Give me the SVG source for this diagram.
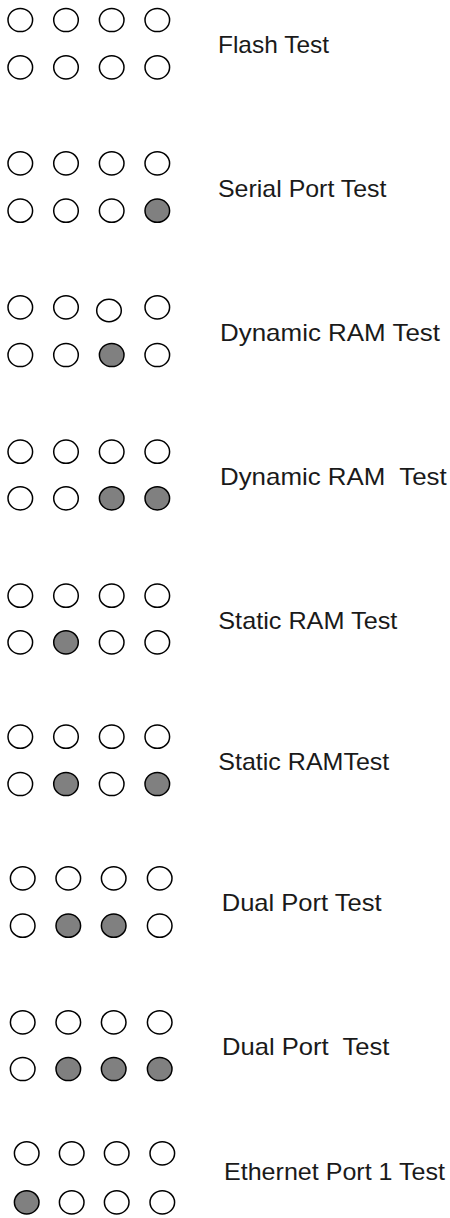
<svg xmlns="http://www.w3.org/2000/svg" width="450" height="1218" viewBox="0 0 450 1218">
<style>
.off{fill:#ffffff;stroke:#000000;stroke-width:1.5}
.on{fill:#808080;stroke:#000000;stroke-width:1.5}
.lbl{font-family:"Liberation Sans",Arial,sans-serif;font-size:24px;fill:#1a1a1a}
</style>
<rect width="450" height="1218" fill="#ffffff"/>
<g id="row1">
<ellipse class="off" cx="20.3" cy="20" rx="12.3" ry="11.6"/><ellipse class="off" cx="66" cy="20" rx="12.3" ry="11.6"/><ellipse class="off" cx="111.7" cy="20" rx="12.3" ry="11.6"/><ellipse class="off" cx="157.3" cy="20" rx="12.3" ry="11.6"/>
<ellipse class="off" cx="20.3" cy="67.3" rx="12.3" ry="11.6"/><ellipse class="off" cx="66" cy="67.3" rx="12.3" ry="11.6"/><ellipse class="off" cx="111.7" cy="67.3" rx="12.3" ry="11.6"/><ellipse class="off" cx="157.3" cy="67.3" rx="12.3" ry="11.6"/>
<text class="lbl" x="218" y="53" textLength="111" lengthAdjust="spacingAndGlyphs">Flash Test</text>
</g>
<g id="row2">
<ellipse class="off" cx="20.3" cy="163.3" rx="12.3" ry="11.6"/><ellipse class="off" cx="66" cy="163.3" rx="12.3" ry="11.6"/><ellipse class="off" cx="111.7" cy="163.3" rx="12.3" ry="11.6"/><ellipse class="off" cx="157.3" cy="163.3" rx="12.3" ry="11.6"/>
<ellipse class="off" cx="20.3" cy="210.7" rx="12.3" ry="11.6"/><ellipse class="off" cx="66" cy="210.7" rx="12.3" ry="11.6"/><ellipse class="off" cx="111.7" cy="210.7" rx="12.3" ry="11.6"/><ellipse class="on" cx="157.3" cy="210.7" rx="12.3" ry="11.6"/>
<text class="lbl" x="218" y="196.7" textLength="168.5" lengthAdjust="spacingAndGlyphs">Serial Port Test</text>
</g>
<g id="row3">
<ellipse class="off" cx="20.3" cy="307.3" rx="12.3" ry="11.6"/><ellipse class="off" cx="66" cy="307.3" rx="12.3" ry="11.6"/><ellipse class="off" cx="109" cy="310.5" rx="12.3" ry="11.2"/><ellipse class="off" cx="157.3" cy="307.3" rx="12.3" ry="11.6"/>
<ellipse class="off" cx="20.3" cy="355" rx="12.3" ry="11.6"/><ellipse class="off" cx="66" cy="355" rx="12.3" ry="11.6"/><ellipse class="on" cx="111.7" cy="355" rx="12.3" ry="11.6"/><ellipse class="off" cx="157.3" cy="355" rx="12.3" ry="11.6"/>
<text class="lbl" x="220" y="340.7" textLength="220" lengthAdjust="spacingAndGlyphs">Dynamic RAM Test</text>
</g>
<g id="row4">
<ellipse class="off" cx="20.3" cy="451.7" rx="12.3" ry="11.6"/><ellipse class="off" cx="66" cy="451.7" rx="12.3" ry="11.6"/><ellipse class="off" cx="111.7" cy="451.7" rx="12.3" ry="11.6"/><ellipse class="off" cx="157.3" cy="451.7" rx="12.3" ry="11.6"/>
<ellipse class="off" cx="20.3" cy="498.3" rx="12.3" ry="11.6"/><ellipse class="off" cx="66" cy="498.3" rx="12.3" ry="11.6"/><ellipse class="on" cx="111.7" cy="498.3" rx="12.3" ry="11.6"/><ellipse class="on" cx="157.3" cy="498.3" rx="12.3" ry="11.6"/>
<text class="lbl" x="220" y="485" textLength="226.7" lengthAdjust="spacingAndGlyphs" xml:space="preserve">Dynamic RAM  Test</text>
</g>
<g id="row5">
<ellipse class="off" cx="20.3" cy="595.7" rx="12.3" ry="11.6"/><ellipse class="off" cx="66" cy="595.7" rx="12.3" ry="11.6"/><ellipse class="off" cx="111.7" cy="595.7" rx="12.3" ry="11.6"/><ellipse class="off" cx="157.3" cy="595.7" rx="12.3" ry="11.6"/>
<ellipse class="off" cx="20.3" cy="642.3" rx="12.3" ry="11.6"/><ellipse class="on" cx="66" cy="642.3" rx="12.3" ry="11.6"/><ellipse class="off" cx="111.7" cy="642.3" rx="12.3" ry="11.6"/><ellipse class="off" cx="157.3" cy="642.3" rx="12.3" ry="11.6"/>
<text class="lbl" x="218.3" y="629" textLength="179" lengthAdjust="spacingAndGlyphs">Static RAM Test</text>
</g>
<g id="row6">
<ellipse class="off" cx="20.3" cy="736.7" rx="12.3" ry="11.6"/><ellipse class="off" cx="66" cy="736.7" rx="12.3" ry="11.6"/><ellipse class="off" cx="111.7" cy="736.7" rx="12.3" ry="11.6"/><ellipse class="off" cx="157.3" cy="736.7" rx="12.3" ry="11.6"/>
<ellipse class="off" cx="20.3" cy="784" rx="12.3" ry="11.6"/><ellipse class="on" cx="66" cy="784" rx="12.3" ry="11.6"/><ellipse class="off" cx="111.7" cy="784" rx="12.3" ry="11.6"/><ellipse class="on" cx="157.3" cy="784" rx="12.3" ry="11.6"/>
<text class="lbl" x="218.3" y="770" textLength="171" lengthAdjust="spacingAndGlyphs">Static RAMTest</text>
</g>
<g id="row7">
<ellipse class="off" cx="22.7" cy="878.3" rx="12.3" ry="11.6"/><ellipse class="off" cx="68.3" cy="878.3" rx="12.3" ry="11.6"/><ellipse class="off" cx="113.7" cy="878.3" rx="12.3" ry="11.6"/><ellipse class="off" cx="159.7" cy="878.3" rx="12.3" ry="11.6"/>
<ellipse class="off" cx="22.7" cy="925.7" rx="12.3" ry="11.6"/><ellipse class="on" cx="68.3" cy="925.7" rx="12.3" ry="11.6"/><ellipse class="on" cx="113.7" cy="925.7" rx="12.3" ry="11.6"/><ellipse class="off" cx="159.7" cy="925.7" rx="12.3" ry="11.6"/>
<text class="lbl" x="221.7" y="911" textLength="160" lengthAdjust="spacingAndGlyphs">Dual Port Test</text>
</g>
<g id="row8">
<ellipse class="off" cx="22.7" cy="1022.3" rx="12.3" ry="11.6"/><ellipse class="off" cx="68.3" cy="1022.3" rx="12.3" ry="11.6"/><ellipse class="off" cx="113.7" cy="1022.3" rx="12.3" ry="11.6"/><ellipse class="off" cx="159.7" cy="1022.3" rx="12.3" ry="11.6"/>
<ellipse class="off" cx="22.7" cy="1069" rx="12.3" ry="11.6"/><ellipse class="on" cx="68.3" cy="1069" rx="12.3" ry="11.6"/><ellipse class="on" cx="113.7" cy="1069" rx="12.3" ry="11.6"/><ellipse class="on" cx="159.7" cy="1069" rx="12.3" ry="11.6"/>
<text class="lbl" x="222" y="1055" textLength="167.3" lengthAdjust="spacingAndGlyphs" xml:space="preserve">Dual Port  Test</text>
</g>
<g id="row9">
<ellipse class="off" cx="26.7" cy="1153.3" rx="12.3" ry="11.6"/><ellipse class="off" cx="71.7" cy="1153.3" rx="12.3" ry="11.6"/><ellipse class="off" cx="116.7" cy="1153.3" rx="12.3" ry="11.6"/><ellipse class="off" cx="162.3" cy="1153.3" rx="12.3" ry="11.6"/>
<ellipse class="on" cx="26.7" cy="1202.3" rx="12.3" ry="11.6"/><ellipse class="off" cx="71.7" cy="1202.3" rx="12.3" ry="11.6"/><ellipse class="off" cx="116.7" cy="1202.3" rx="12.3" ry="11.6"/><ellipse class="off" cx="162.3" cy="1202.3" rx="12.3" ry="11.6"/>
<text class="lbl" x="224" y="1180" textLength="221" lengthAdjust="spacingAndGlyphs">Ethernet Port 1 Test</text>
</g>
<g id="connectors"/>
</svg>
